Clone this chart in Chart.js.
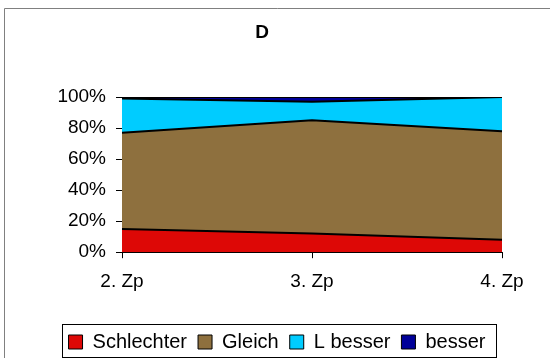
<!DOCTYPE html>
<html>
<head>
<meta charset="utf-8">
<script src="https://cdn.jsdelivr.net/npm/chart.js@4/dist/chart.umd.min.js"></script>
<style>
  html, body { margin: 0; padding: 0; background: #fff; }
  #wrap { width: 550px; height: 358px; }
</style>
</head>
<body>
<div id="wrap"><canvas id="chart" width="550" height="358"></canvas></div>
<script>
// -------------------- DATA --------------------
const categories = ['2. Zp', '3. Zp', '4. Zp'];
const schlechter = [15, 12, 8];
const gleich = [62, 73, 70];
const lBesser = [22, 12, 22];
const besser = [1, 3, 0];
const yTicks = [0, 20, 40, 60, 80, 100];
const chartTitle = 'D';

const FONT = "'Liberation Sans', Arial, sans-serif";

// -------------------- PLUGINS --------------------
// white background, grey frame, title "D" and box around the legend
const frame = {
    id: 'frame',
    beforeDraw(chart) {
        const ctx = chart.ctx;
        ctx.save();
        ctx.fillStyle = '#fff';
        ctx.fillRect(0, 0, chart.width, chart.height);
        ctx.strokeStyle = '#808080';
        ctx.lineWidth = 1;
        ctx.beginPath();
        ctx.moveTo(4.5, chart.height);
        ctx.lineTo(4.5, 8.5);
        ctx.lineTo(chart.width, 8.5);
        ctx.stroke();
        ctx.restore();
    },
    afterDraw(chart) {
        const ctx = chart.ctx;
        ctx.save();
        ctx.fillStyle = '#000';
        ctx.font = 'bold 19px ' + FONT;
        ctx.textAlign = 'center';
        ctx.textBaseline = 'alphabetic';
        ctx.fillText(chartTitle, 262, 38);

        const boxes = chart.legend.legendHitBoxes;
        if (boxes && boxes.length) {
            const left = Math.min(...boxes.map(b => b.left));
            const right = Math.max(...boxes.map(b => b.left + b.width));
            const top = Math.min(...boxes.map(b => b.top));
            const bottom = Math.max(...boxes.map(b => b.top + b.height));
            ctx.strokeStyle = '#000';
            ctx.lineWidth = 1;
            ctx.strokeRect(Math.round(left - 7) + 0.5, Math.round(top - 8) + 0.5,
                Math.round(right - left + 17), Math.round(bottom - top + 13));
        }
        ctx.restore();
    }
};

// -------------------- CHART --------------------
function area(label, data, color, fill) {
    return {
        label: label,
        data: data,
        backgroundColor: color,
        borderColor: '#000',
        borderWidth: 2,
        pointRadius: 0,
        tension: 0,
        fill: fill
    };
}

new Chart(document.getElementById('chart'), {
    type: 'line',
    data: {
        labels: categories,
        datasets: [
            area('Schlechter', schlechter, '#DD0806', 'origin'),
            area('Gleich', gleich, '#8E703E', '-1'),
            area('L besser', lBesser, '#00CCFF', '-1'),
            area('besser', besser, '#000099', '-1')
        ]
    },
    options: {
        responsive: false,
        animation: false,
        layout: { padding: { left: 52, right: 48, top: 97, bottom: -4 } },
        plugins: {
            title: { display: false },
            tooltip: { enabled: false },
            legend: {
                position: 'bottom',
                labels: {
                    color: '#000',
                    font: { family: FONT, size: 20 },
                    boxWidth: 14,
                    boxHeight: 14,
                    padding: 11,
                    generateLabels(chart) {
                        return chart.data.datasets.map((ds, i) => ({
                            text: ds.label,
                            fillStyle: ds.backgroundColor,
                            strokeStyle: '#000',
                            lineWidth: 1,
                            hidden: false,
                            datasetIndex: i
                        }));
                    }
                }
            }
        },
        scales: {
            x: {
                offset: false,
                afterFit(scale) { scale.height += 16; },
                grid: { drawOnChartArea: false, drawTicks: true, tickLength: 6, color: '#000' },
                border: { display: true, color: '#000', width: 1 },
                ticks: { color: '#000', font: { family: FONT, size: 19 }, padding: 12, maxRotation: 0 }
            },
            y: {
                stacked: true,
                min: 0,
                max: 100,
                afterBuildTicks(scale) {
                    scale.ticks = yTicks.map(v => ({ value: v }));
                },
                afterFit(scale) { scale.width = 70; },
                grid: { drawOnChartArea: false, drawTicks: true, tickLength: 6, color: '#000' },
                border: { display: true, color: '#000', width: 1 },
                ticks: {
                    color: '#000',
                    font: { family: FONT, size: 19 },
                    padding: 10,
                    autoSkip: false,
                    callback: v => v + '%'
                }
            }
        }
    },
    plugins: [frame]
});
</script>
</body>
</html>
